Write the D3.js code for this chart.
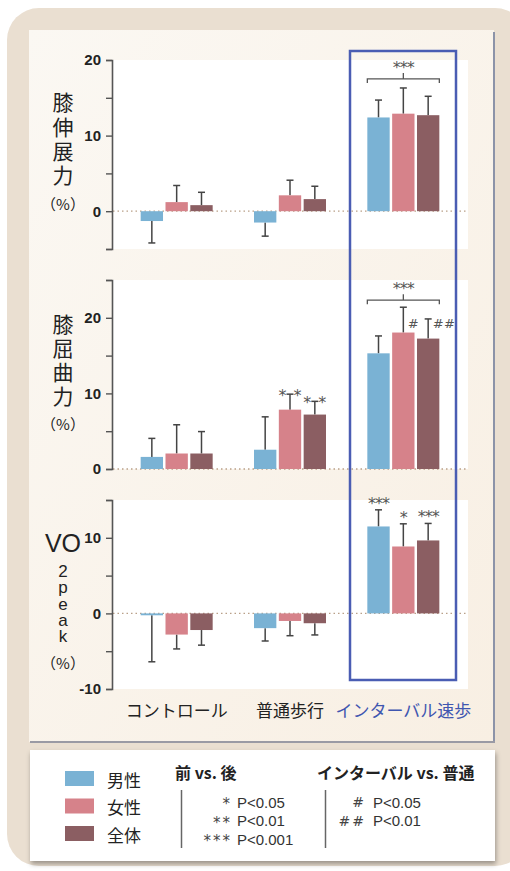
<!DOCTYPE html>
<html><head><meta charset="utf-8">
<script src="https://cdn.jsdelivr.net/npm/d3@7"></script>
<style>body{margin:0;background:#fff}svg{display:block}</style>
</head><body>
<script>
// ---------- data ----------
const categories = ["コントロール", "普通歩行", "インターバル速歩"];
const seriesNames = ["男性", "女性", "全体"];
const seriesColors = ["#7ab2d4", "#d6828a", "#8b5e62"];

// mean change (%) per series, for [control, normal, interval]
const extMale   = [-1.3, -1.5, 12.4];
const extFemale = [1.2, 2.1, 12.9];
const extWhole  = [0.8, 1.6, 12.7];
const extErrMale   = [2.9, 1.8, 2.3];
const extErrFemale = [2.2, 2.0, 3.4];
const extErrWhole  = [1.7, 1.7, 2.5];

const flexMale   = [1.6, 2.55, 15.3];
const flexFemale = [2.05, 7.85, 18.05];
const flexWhole  = [2.05, 7.2, 17.25];
const flexErrMale   = [2.45, 4.35, 2.3];
const flexErrFemale = [3.8, 2.05, 3.35];
const flexErrWhole  = [2.9, 1.75, 2.6];

const voMale   = [-0.25, -1.95, 11.5];
const voFemale = [-2.8, -1.0, 8.85];
const voWhole  = [-2.2, -1.3, 9.65];
const voErrMale   = [6.15, 1.7, 2.2];
const voErrFemale = [1.9, 1.95, 3.0];
const voErrWhole  = [2.0, 1.55, 2.25];

const extTicks = [-5, 0, 5, 10, 15, 20];
const flexTicks = [0, 5, 10, 15, 20, 25];
const voTicks = [-10, -5, 0, 5, 10, 15];
const extTickLabels = [0, 10, 20];
const flexTickLabels = [0, 10, 20];
const voTickLabels = [-10, 0, 10];

// significance marks: [category index, series index, text]
const flexMarks = [[1, 1, "**"], [1, 2, "**"], [2, 1, "#"], [2, 2, "##"]];
const voMarks = [[2, 0, "***"], [2, 1, "*"], [2, 2, "***"]];

const legendSig1 = ["* P<0.05", "** P<0.01", "*** P<0.001"];
const legendSig2 = ["# P<0.05", "## P<0.01"];

// ---------- drawing ----------
const W = 510, H = 871;
const svg = d3.select("body").append("svg").attr("width", W).attr("height", H);
const defs = svg.append("defs");
const g1 = defs.append("linearGradient").attr("id", "inner").attr("x1", 0).attr("y1", 0).attr("x2", 1).attr("y2", 1);
g1.append("stop").attr("offset", 0).attr("stop-color", "#fbf8f3");
g1.append("stop").attr("offset", 1).attr("stop-color", "#f8efe3");
const fl = defs.append("filter").attr("id", "shadow").attr("x", -0.05).attr("y", -0.1).attr("width", 1.1).attr("height", 1.3);
fl.append("feDropShadow").attr("dx", 1).attr("dy", 3).attr("stdDeviation", 2.5).attr("flood-color", "#000").attr("flood-opacity", 0.35);

svg.append("rect").attr("x", 7).attr("y", 8).attr("width", 520).attr("height", 858).attr("rx", 32).attr("fill", "#eadfd1");
svg.append("rect").attr("x", 29).attr("y", 30).attr("width", 465).attr("height", 712).attr("fill", "url(#inner)");
svg.append("line").attr("x1", 494).attr("x2", 494).attr("y1", 32).attr("y2", 742).attr("stroke", "#8c93a8").attr("stroke-width", 2);
svg.append("line").attr("x1", 30).attr("x2", 495).attr("y1", 742).attr("y2", 742).attr("stroke", "#9a9aa4").attr("stroke-width", 2);

const x0 = d3.scaleBand().domain(categories).range([120, 460]);
const x1 = d3.scaleBand().domain(seriesNames).range([-36, 36]).paddingInner(0.1);

const panels = [
  { domain: [-5, 20], range: [249, 60], ticks: extTicks, labels: extTickLabels,
    vals: [extMale, extFemale, extWhole], errs: [extErrMale, extErrFemale, extErrWhole], marks: [] },
  { domain: [0, 25], range: [469, 280], ticks: flexTicks, labels: flexTickLabels,
    vals: [flexMale, flexFemale, flexWhole], errs: [flexErrMale, flexErrFemale, flexErrWhole], marks: flexMarks },
  { domain: [-10, 15], range: [689, 500], ticks: voTicks, labels: voTickLabels,
    vals: [voMale, voFemale, voWhole], errs: [voErrMale, voErrFemale, voErrWhole], marks: voMarks }
];
const starFont = "DejaVu Sans, sans-serif";

panels.forEach((p, pi) => {
  const y = d3.scaleLinear().domain(p.domain).range(p.range);
  const g = svg.append("g");
  g.append("rect").attr("x", 113).attr("y", p.range[1]).attr("width", 355).attr("height", p.range[0] - p.range[1]).attr("fill", "#fff");
  // zero line
  g.append("line").attr("x1", 113).attr("x2", 468).attr("y1", y(0)).attr("y2", y(0))
    .attr("stroke", "#b9a088").attr("stroke-width", 1.3).attr("stroke-dasharray", "1.5,3");
  // axis
  const ax = g.append("g").attr("transform", "translate(112,0)")
    .call(d3.axisLeft(y).tickValues(p.ticks).tickSize(6).tickPadding(5)
      .tickFormat(d => p.labels.includes(d) ? d : ""));
  ax.select(".domain").attr("stroke", "#555").attr("stroke-width", 1.6);
  ax.selectAll(".tick line").attr("stroke", "#555").attr("stroke-width", 1.4);
  ax.selectAll(".tick text").attr("font-family", "Liberation Sans, Arial, sans-serif").attr("font-weight", "bold")
    .attr("font-size", 15).attr("fill", "#222");
  // bars
  seriesNames.forEach((s, si) => {
    categories.forEach((c, ci) => {
      const v = p.vals[si][ci], e = p.errs[si][ci];
      const bx = x0(c) + x0.bandwidth() / 2 + x1(s);
      const bw = x1.bandwidth();
      const cx = bx + bw / 2;
      const tip = v >= 0 ? v + e : v - e;
      g.append("line").attr("x1", cx).attr("x2", cx).attr("y1", y(v)).attr("y2", y(tip)).attr("stroke", "#444").attr("stroke-width", 1.5);
      g.append("line").attr("x1", cx - 3.5).attr("x2", cx + 3.5).attr("y1", y(tip)).attr("y2", y(tip)).attr("stroke", "#444").attr("stroke-width", 1.5);
      g.append("rect").attr("x", bx).attr("width", bw)
        .attr("y", y(Math.max(0, v))).attr("height", Math.abs(y(v) - y(0)))
        .attr("fill", seriesColors[si]);
    });
  });
  // marks
  p.marks.forEach(([ci, si, t]) => {
    const c = categories[ci], s = seriesNames[si];
    const cx = x0(c) + x0.bandwidth() / 2 + x1(s) + x1.bandwidth() / 2;
    const v = p.vals[si][ci], e = p.errs[si][ci];
    const tipY = y(v + e);
    const txt = () => g.append("text").attr("font-family", starFont).attr("fill", "#555");
    if (t.startsWith("#")) {
      const refY = y(p.vals[2][ci] + p.errs[2][ci]);
      txt().attr("x", cx + 4.5).attr("y", refY + 9).attr("font-size", 13).attr("letter-spacing", 0.5).text(t);
    } else if (t === "**") {
      txt().attr("x", cx - 7.5).attr("y", tipY + 7).attr("text-anchor", "middle").attr("font-size", 16).text("*");
      txt().attr("x", cx + 7.5).attr("y", tipY + 7).attr("text-anchor", "middle").attr("font-size", 16).text("*");
    } else {
      txt().attr("x", cx).attr("y", tipY - 1).attr("text-anchor", "middle").attr("font-size", 16).attr("letter-spacing", -1).text(t);
    }
  });
  // bracket on interval group for panels 0 and 1
  if (pi < 2) {
    const c = categories[2];
    const xl = x0(c) + x0.bandwidth() / 2 + x1(seriesNames[0]);
    const xr = x0(c) + x0.bandwidth() / 2 + x1(seriesNames[2]) + x1.bandwidth();
    const maxTip = d3.max([0, 1, 2], si => p.vals[si][2] + p.errs[si][2]);
    const by = y(maxTip) - (pi === 0 ? 9 : 7);
    const xm = (xl + xr) / 2;
    g.append("path").attr("d", `M${xl},${by + 4}V${by}H${xr}V${by + 4}M${xm},${by}V${by - 6}`)
      .attr("fill", "none").attr("stroke", "#555").attr("stroke-width", 1.3);
    g.append("text").attr("x", xm).attr("y", by - 6).attr("text-anchor", "middle").attr("font-family", starFont)
      .attr("font-size", 16).attr("letter-spacing", -1).attr("fill", "#555").text("***");
  }
});

// y titles
const jpFont = "Noto Sans CJK JP, sans-serif";
function vertical(str, cx, yTop, size, spacing, font, upright) {
  svg.append("text").attr("x", cx).attr("y", yTop)
    .style("writing-mode", "vertical-rl").style("text-orientation", upright ? "upright" : "mixed")
    .attr("letter-spacing", spacing)
    .attr("font-family", font).attr("font-size", size).attr("fill", "#222").text(str);
}
vertical("膝伸展力", 63, 92, 21, 3.3, jpFont, false);
vertical("膝屈曲力", 63, 314, 21, 3.0, jpFont, false);
[203, 423, 662].forEach(yy => svg.append("text").attr("x", 63).attr("y", yy).attr("text-anchor", "middle")
  .attr("dominant-baseline", "central").attr("font-family", jpFont).attr("font-size", 15).attr("fill", "#222").text("（%）"));
svg.append("text").attr("x", 63).attr("y", 543).attr("text-anchor", "middle").attr("dominant-baseline", "central")
  .attr("font-family", "Liberation Sans, sans-serif").attr("font-size", 25).attr("fill", "#222").text("VO");
vertical("2peak", 63, 562, 17, -2.7, "Liberation Sans, sans-serif", true);

// category labels
categories.forEach((c, i) => svg.append("text").attr("x", x0(c) + x0.bandwidth() / 2).attr("y", 717)
  .attr("text-anchor", "middle").attr("font-family", jpFont).attr("font-size", 17)
  .attr("fill", i === 2 ? "#3f56b0" : "#222").text(c));

// interval highlight box
svg.append("rect").attr("x", 350).attr("y", 51).attr("width", 106).attr("height", 629)
  .attr("fill", "none").attr("stroke", "#4a5db3").attr("stroke-width", 2.5);

// legend
const lg = svg.append("g");
lg.append("rect").attr("x", 30).attr("y", 750).attr("width", 465).attr("height", 111).attr("fill", "#fff").attr("filter", "url(#shadow)");
seriesNames.forEach((s, i) => {
  lg.append("rect").attr("x", 65).attr("y", 771 + i * 27.5).attr("width", 29).attr("height", 15).attr("fill", seriesColors[i]);
  lg.append("text").attr("x", 107).attr("y", 779 + i * 27.5).attr("dominant-baseline", "central")
    .attr("font-family", jpFont).attr("font-size", 17).attr("fill", "#222").text(s);
});
lg.append("text").attr("x", 175).attr("y", 772).attr("dominant-baseline", "central").attr("font-family", jpFont)
  .attr("font-weight", "bold").attr("font-size", 16).attr("fill", "#222").text("前 vs. 後");
lg.append("text").attr("x", 317).attr("y", 772).attr("dominant-baseline", "central").attr("font-family", jpFont)
  .attr("font-weight", "bold").attr("font-size", 16).attr("fill", "#222").text("インターバル vs. 普通");
lg.append("line").attr("x1", 181.5).attr("x2", 181.5).attr("y1", 790).attr("y2", 848).attr("stroke", "#666").attr("stroke-width", 1.5);
lg.append("line").attr("x1", 325.5).attr("x2", 325.5).attr("y1", 790).attr("y2", 848).attr("stroke", "#666").attr("stroke-width", 1.5);
legendSig1.forEach((t, i) => {
  const [m, pv] = t.split(" ");
  lg.append("text").attr("x", 232).attr("y", 804 + i * 18.5).attr("text-anchor", "end").attr("dominant-baseline", "central")
    .attr("font-family", starFont).attr("font-size", 15).attr("fill", "#444").attr("letter-spacing", 2).text(m);
  lg.append("text").attr("x", 237).attr("y", 802 + i * 18.5).attr("dominant-baseline", "central")
    .attr("font-family", "Liberation Sans, sans-serif").attr("font-size", 15).attr("fill", "#333").text(pv);
});
legendSig2.forEach((t, i) => {
  const [m, pv] = t.split(" ");
  lg.append("text").attr("x", 366).attr("y", 802 + i * 18.5).attr("text-anchor", "end").attr("dominant-baseline", "central")
    .attr("font-family", starFont).attr("font-size", 14).attr("fill", "#444").attr("letter-spacing", 2).text(m);
  lg.append("text").attr("x", 373).attr("y", 802 + i * 18.5).attr("dominant-baseline", "central")
    .attr("font-family", "Liberation Sans, sans-serif").attr("font-size", 15).attr("fill", "#333").text(pv);
});
</script>
</body></html>
